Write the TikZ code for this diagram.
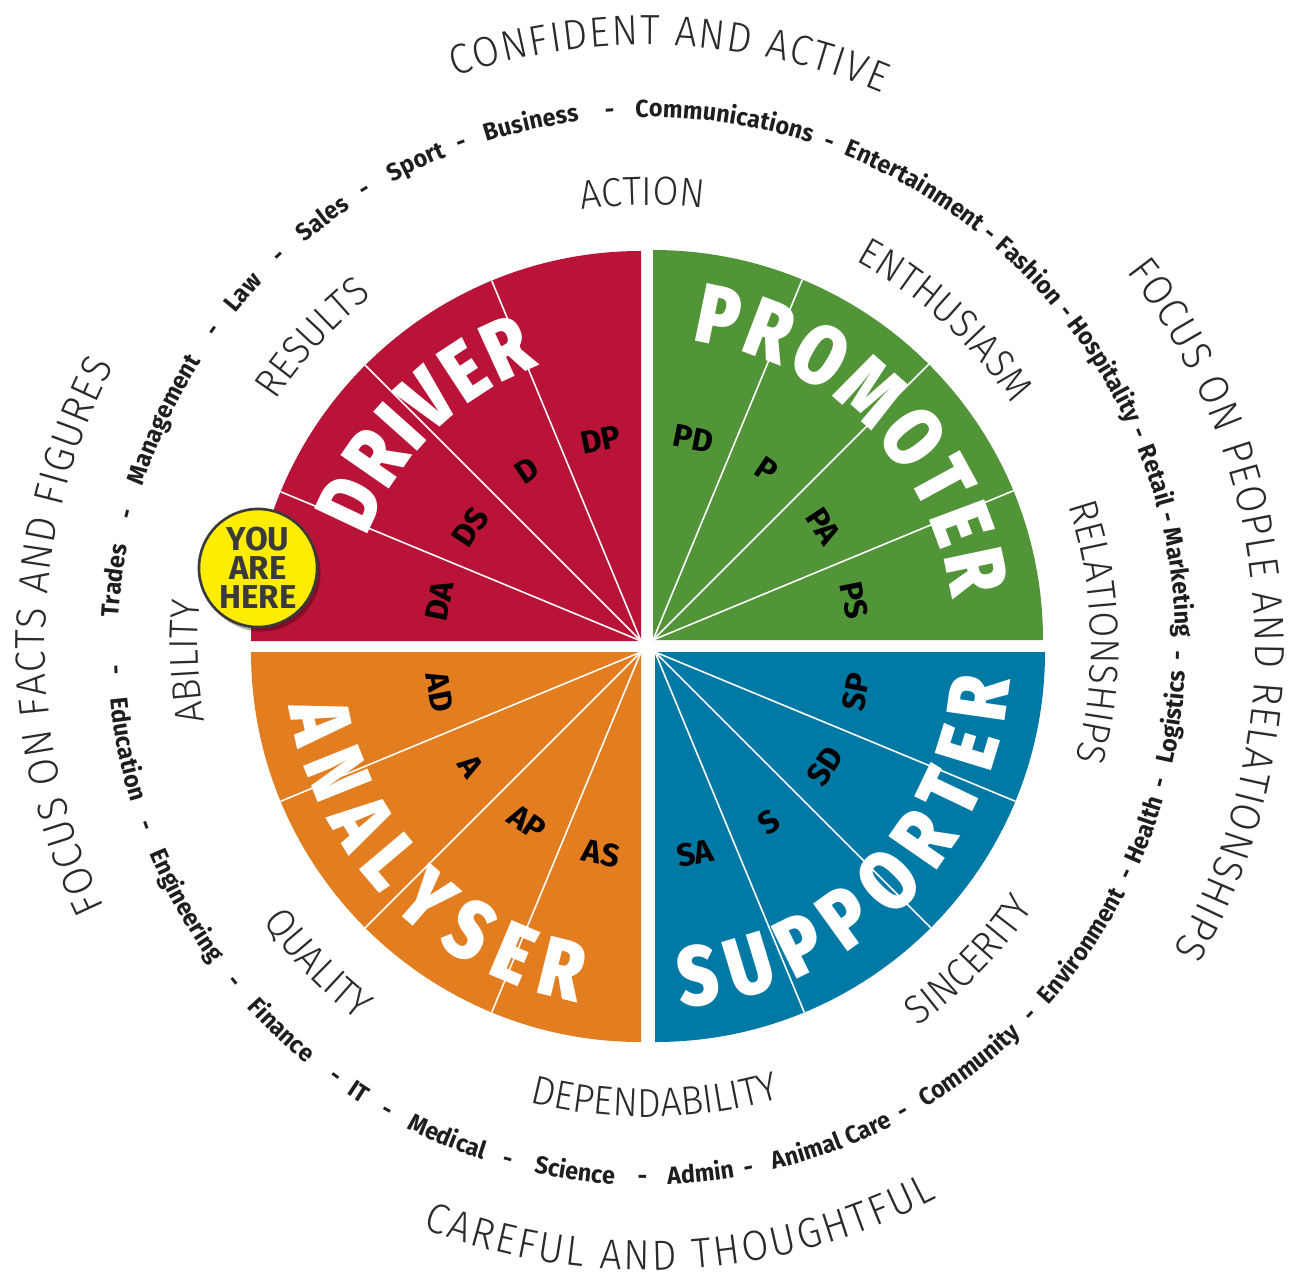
\documentclass[tikz,border=0pt]{standalone}
\usepackage{fontspec}
\setmainfont{Fira Sans}
\newfontfamily\thinfont{Fira Sans Light}[FakeStretch=0.93]
\newfontfamily\heavyfont{Fira Sans Black}[FakeStretch=0.82]
\newfontfamily\careerfont{Fira Sans}[FakeStretch=0.95]
\usetikzlibrary{decorations.text,shadows}
\definecolor{driverred}{HTML}{B91337}
\definecolor{promotergreen}{HTML}{529438}
\definecolor{supporterblue}{HTML}{0079A5}
\definecolor{analyserorange}{HTML}{E27D20}
\definecolor{hereyellow}{HTML}{FFED00}
\definecolor{badgeink}{HTML}{3A3A3A}
\definecolor{inkdark}{HTML}{2A2A2A}
\definecolor{careerink}{HTML}{1E1E1E}
\newcommand\headstyle{\thinfont\fontsize{12}{14}\selectfont\color{inkdark}}
\newcommand\labelstyle{\thinfont\fontsize{11.5}{13}\selectfont\color{inkdark}}
\newcommand\bigstyle{\heavyfont\fontsize{24}{28}\selectfont\color{white}}
\newcommand\careerstyle{\careerfont\bfseries\fontsize{7}{8}\selectfont\color{careerink}}
\newcommand\wordup[4]{\path[decorate,decoration={text along path,text align=center,text={|#4|#3}}] (#1+30:#2) arc[start angle=#1+30,end angle=#1-30,radius=#2];}
\newcommand\worddown[4]{\path[decorate,decoration={text along path,text align=center,text={|#4|#3}}] (#1-30:#2) arc[start angle=#1-30,end angle=#1+30,radius=#2];}
\begin{document}
\begin{tikzpicture}[x=0.01cm,y=0.01cm,
  divider/.style={draw=white,line width=0.45pt},
  sectorlbl/.style={font=\bfseries\fontsize{9.1}{10}\selectfont,text=black,inner sep=0pt},
  herebadge/.style={circle,fill=hereyellow,draw=badgeink,line width=0.75pt,minimum size=1.18cm,inner sep=0pt,align=center,text=badgeink,font=\bfseries\fontsize{9.4}{8.3}\selectfont,drop shadow={shadow xshift=0.035cm,shadow yshift=-0.045cm,opacity=0.3,fill=black}}]
\useasboundingbox (-647,-632) rectangle (648,646);
\coordinate (cD) at (-6,5);
\coordinate (cP) at (6,6);
\coordinate (cS) at (8,-6);
\coordinate (cA) at (-6,-6);
\fill[driverred] (cD) -- ++(-390,0) arc[start angle=180,end angle=90,radius=390] -- cycle;
\fill[promotergreen] (cP) -- ++(0,390) arc[start angle=90,end angle=0,radius=390] -- cycle;
\fill[supporterblue] (cS) -- ++(390,0) arc[start angle=0,end angle=-90,radius=390] -- cycle;
\fill[analyserorange] (cA) -- ++(0,-390) arc[start angle=-90,end angle=-180,radius=390] -- cycle;
\foreach \a in {112.5,135,157.5} \draw[divider] (cD) -- ++(\a:390);
\foreach \a in {22.5,45,67.5} \draw[divider] (cP) -- ++(\a:390);
\foreach \a in {-22.5,-45,-67.5} \draw[divider] (cS) -- ++(\a:390);
\foreach \a in {-112.5,-135,-157.5} \draw[divider] (cA) -- ++(\a:390);
\foreach \t/\a in {DA/168.75,DS/146.25,D/123.75,DP/101.25}
  \node[sectorlbl,rotate=\a-90] (lbl\t) at ([shift={(\a:205)}]cD) {\t};
\foreach \t/\a in {PD/78.75,P/56.25,PA/33.75,PS/11.25}
  \node[sectorlbl,rotate=\a-90] (lbl\t) at ([shift={(\a:205)}]cP) {\t};
\foreach \t/\a in {SP/-11.25,SD/-33.75,S/-56.25,SA/-78.75}
  \node[sectorlbl,rotate=\a+90] (lbl\t) at ([shift={(\a:205)}]cS) {\t};
\foreach \t/\a in {AD/-168.75,A/-146.25,AP/-123.75,AS/-101.25}
  \node[sectorlbl,rotate=\a+90] (lbl\t) at ([shift={(\a:205)}]cA) {\t};
\path[decorate,decoration={text along path,text align=fit to path,text={|\bigstyle|DRIVER}}] ([shift={(159.2:293)}]cD) arc[start angle=159.2,end angle=110.4,radius=293];
\path[decorate,decoration={text along path,text align=fit to path,text={|\bigstyle|PROMOTER}}] ([shift={(82.4:301)}]cP) arc[start angle=82.4,end angle=7.8,radius=301];
\path[decorate,decoration={text along path,text align=fit to path,text={|\bigstyle|SUPPORTER}}] ([shift={(-85.8:356)}]cS) arc[start angle=-85.8,end angle=-4.7,radius=356];
\path[decorate,decoration={text along path,text align=fit to path,text={|\bigstyle|ANALYSER}}] ([shift={(-171.1:356)}]cA) arc[start angle=-171.1,end angle=-100.4,radius=356];
\node[herebadge] (here) at (-389,78) {YOU\\ARE\\HERE};
\wordup{90.6}{441}{ACTION}{\labelstyle}
\wordup{47.5}{438}{ENTHUSIASM}{\labelstyle}
\wordup{1.8}{444}{RELATIONSHIPS}{\labelstyle}
\worddown{-44.3}{467}{SINCERITY}{\labelstyle}
\worddown{-89}{471}{DEPENDABILITY}{\labelstyle}
\worddown{-136}{473}{QUALITY}{\labelstyle}
\wordup{182}{449}{ABILITY}{\labelstyle}
\wordup{137.3}{445}{RESULTS}{\labelstyle}
\wordup{173}{529}{Trades}{\careerstyle}
\wordup{154.9}{529}{Management}{\careerstyle}
\wordup{138.8}{529}{Law}{\careerstyle}
\wordup{127.2}{529}{Sales}{\careerstyle}
\wordup{115.5}{529}{Sport}{\careerstyle}
\wordup{102.5}{529}{Business}{\careerstyle}
\wordup{81.6}{529}{Communications}{\careerstyle}
\wordup{59.8}{529}{Entertainment}{\careerstyle}
\wordup{44.4}{529}{Fashion}{\careerstyle}
\wordup{31.1}{529}{Hospitality}{\careerstyle}
\wordup{18.5}{529}{Retail}{\careerstyle}
\wordup{6.8}{529}{Marketing}{\careerstyle}
\foreach \a in {165.8,143.9,133.3,121.7,110.3,94,70.1,50.2,38.6,23.4,13.9} {\wordup{\a}{529}{-}{\careerstyle}}
\worddown{-168.8}{539}{Education}{\careerstyle}
\worddown{-150.6}{539}{Engineering}{\careerstyle}
\worddown{-133.6}{539}{Finance}{\careerstyle}
\worddown{-122.9}{539}{IT}{\careerstyle}
\worddown{-112.1}{539}{Medical}{\careerstyle}
\worddown{-97.8}{539}{Science}{\careerstyle}
\worddown{-84.2}{539}{Admin}{\careerstyle}
\worddown{-69.6}{539}{Animal Care}{\careerstyle}
\worddown{-52.5}{539}{Community}{\careerstyle}
\worddown{-34.6}{539}{Environment}{\careerstyle}
\worddown{-20.3}{539}{Health}{\careerstyle}
\worddown{-7.7}{539}{Logistics}{\careerstyle}
\foreach \a in {-177.4,-160.3,-140.9,-125.9,-119.2,-105.1,-90.5,-79,-61.2,-43.9,-25.4,-14.9,-1} {\worddown{\a}{539}{-}{\careerstyle}}
\path[decorate,decoration={text along path,text align=fit to path,text={|\headstyle|CONFIDENT AND ACTIVE}}] (108.65:601) arc[start angle=108.65,end angle=66.95,radius=601];
\path[decorate,decoration={text along path,text align=fit to path,text={|\headstyle|CAREFUL AND THOUGHTFUL}}] (-111.1:624) arc[start angle=-111.1,end angle=-62.3,radius=624];
\path[decorate,decoration={text along path,text align=fit to path,text={|\headstyle|FOCUS ON FACTS AND FIGURES}}] (205.7:602) arc[start angle=205.7,end angle=152.3,radius=602];
\path[decorate,decoration={text along path,text align=fit to path,text={|\headstyle|FOCUS ON PEOPLE AND RELATIONSHIPS}}] (38:608) arc[start angle=38,end angle=-30,radius=608];
\end{tikzpicture}
\end{document}
